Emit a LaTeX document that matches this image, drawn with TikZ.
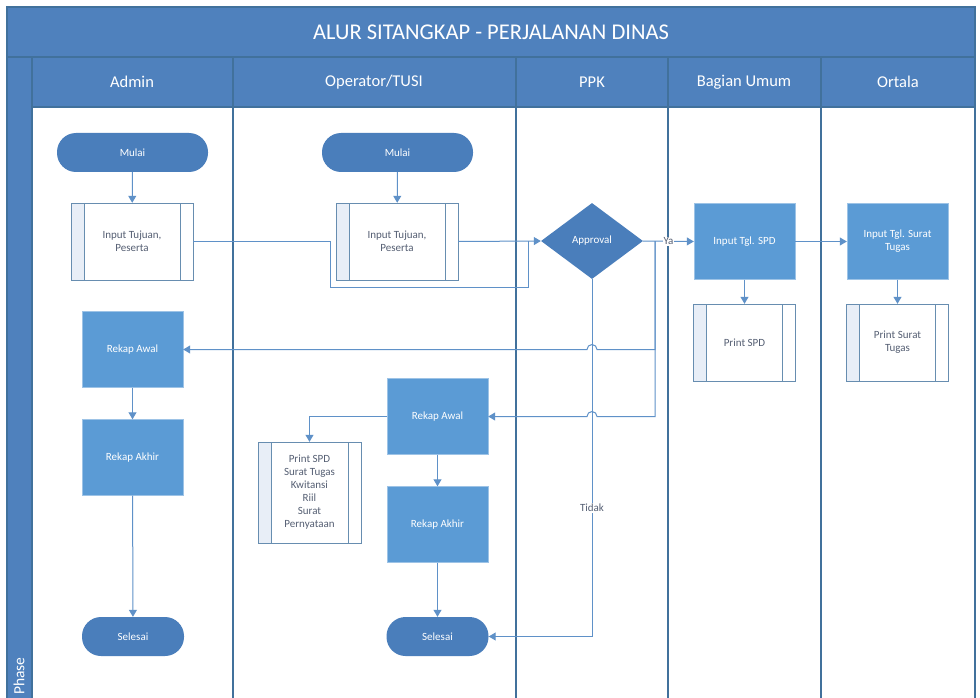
\documentclass[tikz,border=0pt]{standalone}
\usepackage{fontspec}
\setmainfont{Carlito}
\usepackage{xcolor}
\usetikzlibrary{positioning}
\usetikzlibrary{shapes.geometric}
\usetikzlibrary{arrows.meta}
\definecolor{bandblue}{RGB}{79,129,189}
\definecolor{laneline}{RGB}{65,113,156}
\definecolor{boxblue}{RGB}{91,155,213}
\definecolor{termblue}{RGB}{74,126,187}
\definecolor{flowblue}{RGB}{95,145,200}
\definecolor{subfill}{RGB}{232,238,247}
\definecolor{subtext}{RGB}{85,95,115}

\begin{document}
\begin{tikzpicture}[x=1pt,y=-1pt,
    lane/.style={draw=laneline, line width=1.3pt},
    band/.style={fill=bandblue},
    headtext/.style={text=white, font=\fontsize{16.5}{19}\selectfont},
    terminal/.style={fill=termblue, rounded corners=19pt, minimum height=39pt, text=white, font=\fontsize{11}{13}\selectfont},
    process/.style={fill=boxblue, draw=boxblue!60!white, minimum width=101pt, minimum height=76pt, text=white, align=center, font=\fontsize{11}{13}\selectfont},
    decision/.style={diamond, fill=termblue, inner sep=0pt, minimum width=102pt, minimum height=76pt, text=white, font=\fontsize{11}{13}\selectfont},
    subproc/.style={draw=laneline!80, fill=white, minimum height=77pt, text=subtext, align=center, font=\fontsize{11}{13}\selectfont,
        path picture={
            \fill[subfill] (path picture bounding box.north west) rectangle ([xshift=13pt]path picture bounding box.south west);
            \draw[laneline!80] ([xshift=13pt]path picture bounding box.north west) -- ([xshift=13pt]path picture bounding box.south west);
            \draw[laneline!80] ([xshift=-13pt]path picture bounding box.north east) -- ([xshift=-13pt]path picture bounding box.south east);
        }},
    flow/.style={draw=flowblue, line width=1pt, -{Triangle[length=7pt,width=8pt]}},
    plainflow/.style={draw=flowblue, line width=1pt},
    flowlabel/.style={fill=white, inner sep=1pt, text=subtext, font=\fontsize{11}{13}\selectfont}]
    \useasboundingbox (0,0) rectangle (980,698);

    % Swimlane frame
    \fill[white] (0,0) rectangle (980,698);
    \fill[band] (7,7) rectangle (975,107);
    \fill[band] (7,107) rectangle (32,698);
    \draw[lane] (7,698) -- (7,7) -- (975,7) -- (975,698);
    \draw[lane] (7,57) -- (975,57);
    \draw[lane] (32,107) -- (975,107);
    \draw[lane] (32,57) -- (32,698);
    \foreach \x in {233,516,668,821} {
        \draw[lane] (\x,57) -- (\x,698);
    }
    \node[text=white, font=\fontsize{22.5}{27}\selectfont] (title) at (491,32) {ALUR SITANGKAP - PERJALANAN DINAS};
    \node[headtext] (hAdmin) at (132,82) {Admin};
    \node[headtext] (hOperator) at (374,82) {Operator/TUSI};
    \node[headtext] (hPPK) at (592,82) {PPK};
    \node[headtext] (hUmum) at (744,82) {Bagian Umum};
    \node[headtext] (hOrtala) at (898,82) {Ortala};
    \node[text=white, rotate=90, font=\fontsize{15.5}{18}\selectfont] (phase) at (19,676) {Phase};

    % Admin
    \node[terminal, minimum width=151pt] (mulaiA) at (132.5,152.5) {Mulai};
    \node[subproc, minimum width=122pt] (inputA) at (132,241.5) {Input Tujuan,\\Peserta};
    \node[process] (rekapAwalA) at (132.5,349.5) {Rekap Awal};
    \node[process] (rekapAkhirA) at (132.5,457.5) {Rekap Akhir};
    \node[terminal, minimum width=102pt] (selesaiA) at (133,636.5) {Selesai};

    % Operator/TUSI
    \node[terminal, minimum width=151pt] (mulaiO) at (397.5,152.5) {Mulai};
    \node[subproc, minimum width=122pt] (inputO) at (397,241.5) {Input Tujuan,\\Peserta};
    \node[process] (rekapAwalO) at (437.5,416.5) {Rekap Awal};
    \node[process] (rekapAkhirO) at (437.5,524.5) {Rekap Akhir};
    \node[terminal, minimum width=102pt] (selesaiO) at (437.5,636.5) {Selesai};
    \node[subproc, minimum width=103pt, minimum height=101pt] (printAll) at (309.5,492.5) {Print SPD\\Surat Tugas\\Kwitansi\\Riil\\Surat\\Pernyataan};

    % PPK
    \node[decision] (approval) at (592,241) {Approval};

    % Bagian Umum
    \node[process] (inputSPD) at (744.5,241.5) {Input Tgl. SPD};
    \node[subproc, minimum width=102pt] (printSPD) at (744.5,342.5) {Print SPD};

    % Ortala
    \node[process] (inputST) at (897.5,241.5) {Input Tgl. Surat\\Tugas};
    \node[subproc, minimum width=102pt] (printST) at (897.5,342.5) {Print Surat\\Tugas};

    % Connectors
    \coordinate (merge) at (528,241);
    \coordinate (split) at (655,241);
    \draw[flow] (mulaiA) -- (inputA);
    \draw[flow] (mulaiO) -- (inputO);
    \draw[plainflow] (inputA.east) -| (330,287) -| (merge);
    \draw[flow] (inputO.east) -- (approval.west);
    \draw[flow] (approval.east) -- node[flowlabel] {Ya} (inputSPD.west);
    \draw[flow] (split) |- (597,349.5) arc[start angle=0, end angle=-180, radius=5] -- (rekapAwalA.east);
    \draw[flow] (split) |- (597,416.5) arc[start angle=0, end angle=-180, radius=5] -- (rekapAwalO.east);
    \draw[flow] (approval.south) |- node[flowlabel, pos=0.32] {Tidak} (selesaiO.east);
    \draw[flow] (inputSPD) -- (inputST);
    \draw[flow] (inputSPD) -- (printSPD);
    \draw[flow] (inputST) -- (printST);
    \draw[flow] (rekapAwalA) -- (rekapAkhirA);
    \draw[flow] (rekapAkhirA) -- (selesaiA);
    \draw[flow] (rekapAwalO) -- (rekapAkhirO);
    \draw[flow] (rekapAkhirO) -- (selesaiO);
    \draw[flow] (rekapAwalO.west) -| (printAll.north);
\end{tikzpicture}
\end{document}
